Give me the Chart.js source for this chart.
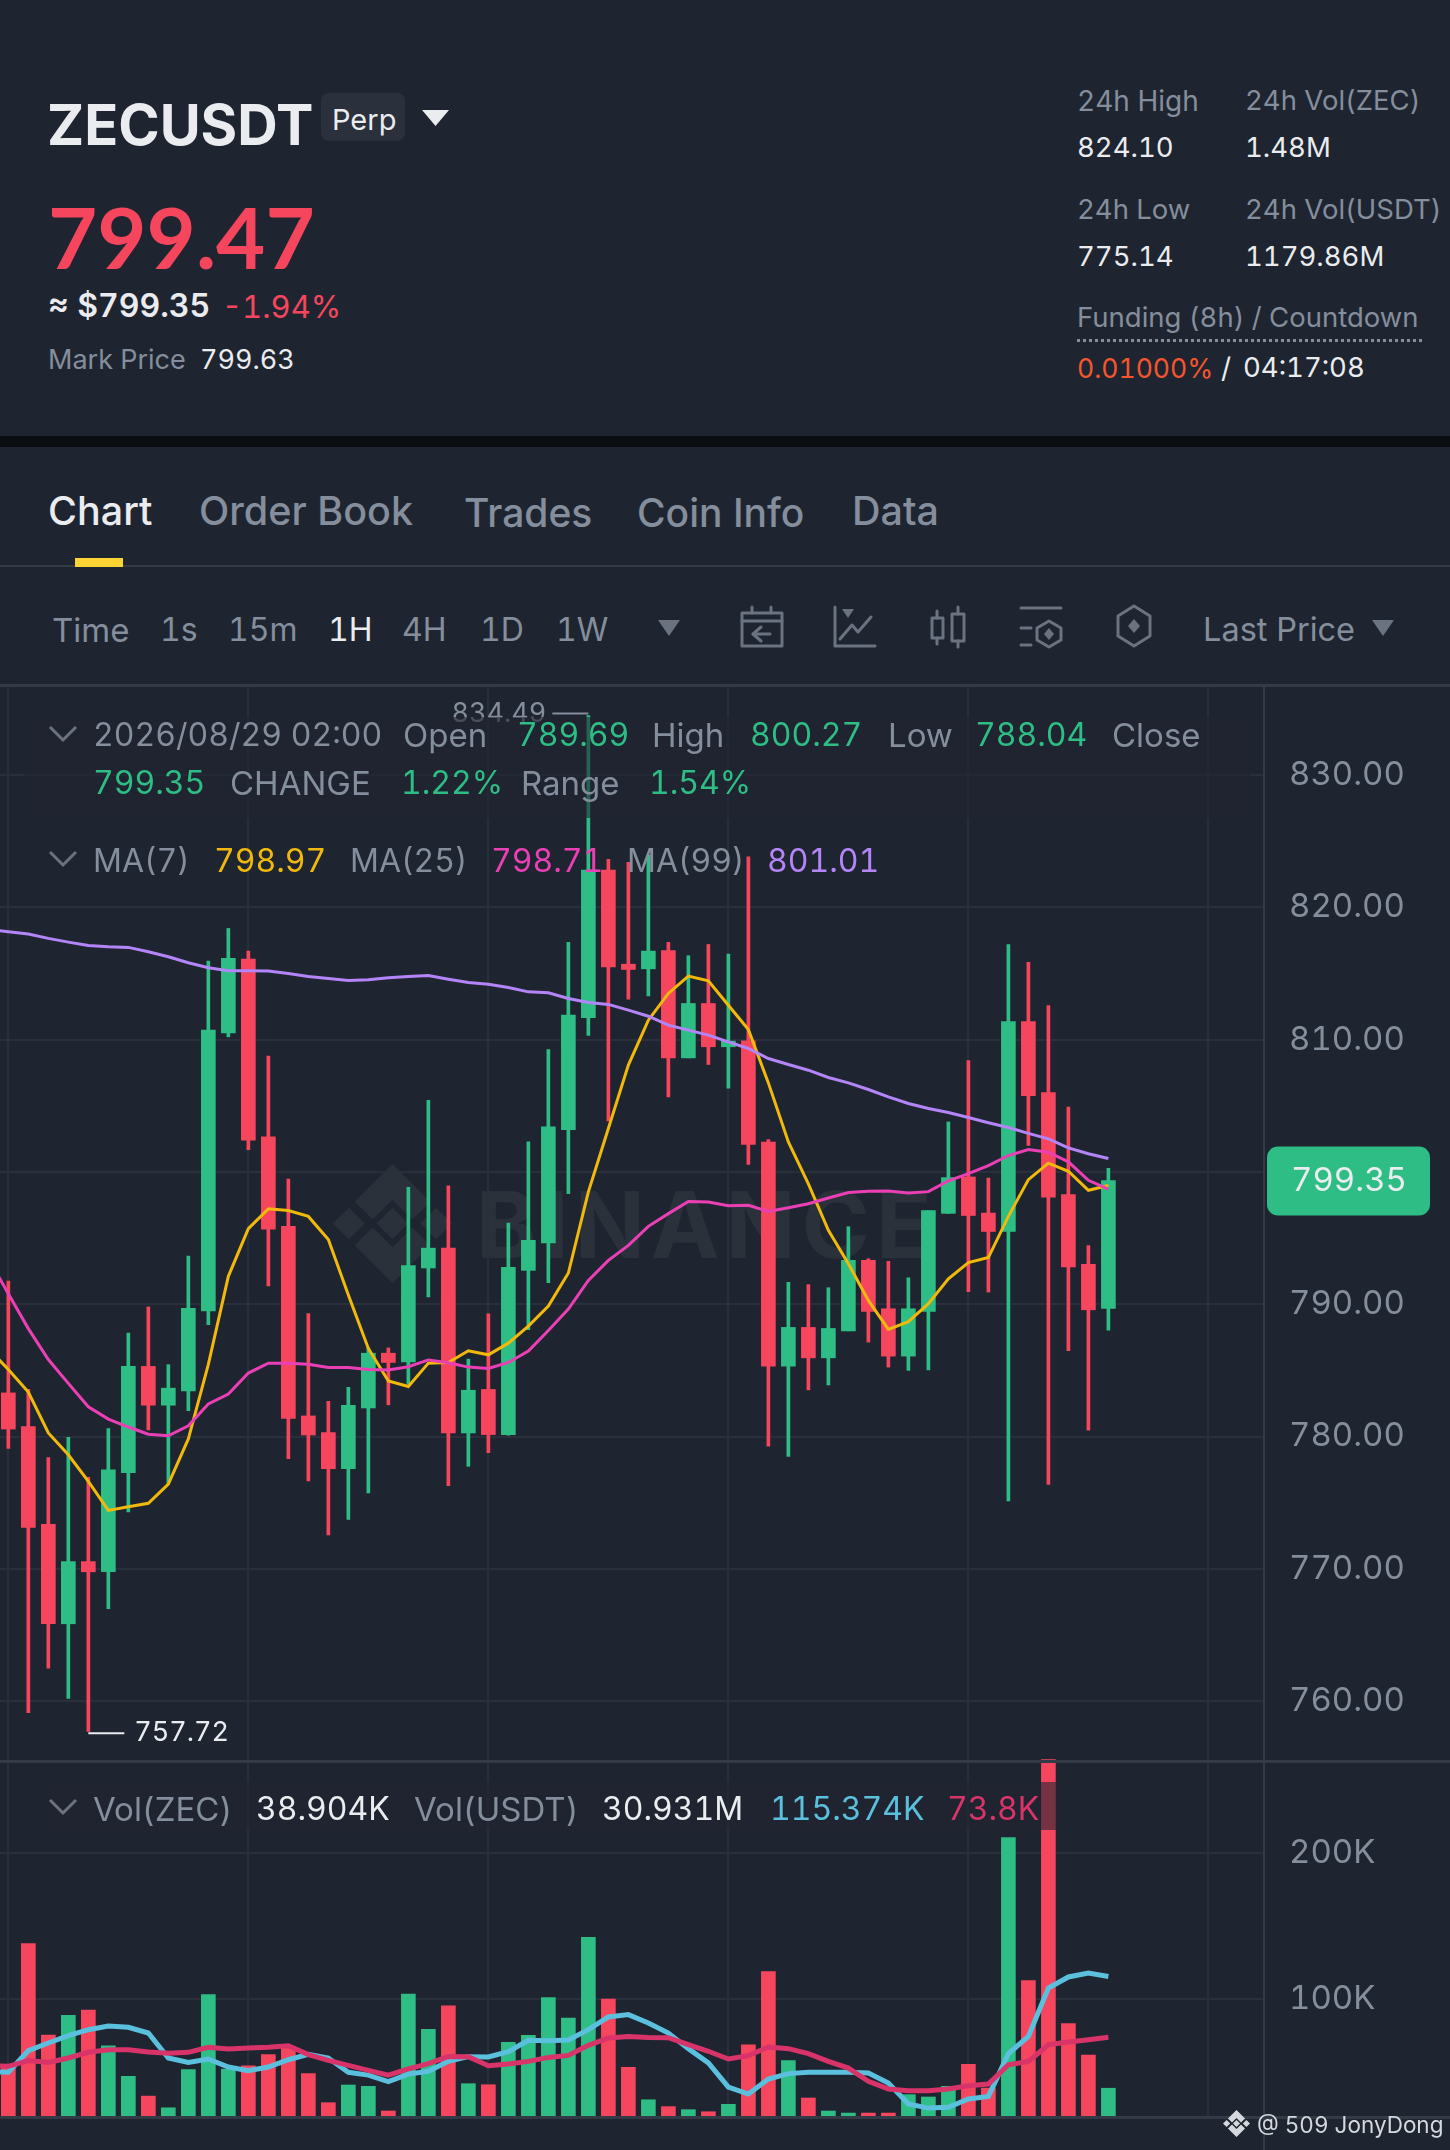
<!DOCTYPE html>
<html>
<head>
<meta charset="utf-8">
<title>ZECUSDT</title>
<script src="https://cdn.jsdelivr.net/npm/chart.js@4"></script>
<style>
html, body { margin: 0; padding: 0; background: #1f2530; }
#app { position: relative; width: 1450px; height: 2150px; overflow: hidden; background: #1f2530; font-family: Inter, sans-serif; font-variant-numeric: tabular-nums; }
#app span { position: absolute; white-space: nowrap; line-height: 1; transform: translateY(-50%); }
#app canvas { position: absolute; left: 0; }
#app svg { position: absolute; overflow: visible; }
.rule { position: absolute; background: #333b47; }
.box { position: absolute; }
</style>
</head>
<body>
<div id="app"></div>
<script>
// candles
var opens = [783.30,780.75,773.37,765.85,770.55,769.78,777.27,785.30,782.37,783.45,789.50,810.51,816.09,802.65,795.89,781.56,780.30,777.57,782.16,786.30,785.64,792.74,794.24,780.27,783.56,780.15,792.56,794.63,803.20,811.65,822.82,815.70,815.35,816.72,808.62,812.73,809.46,809.91,802.25,785.32,788.25,785.95,787.99,793.32,789.66,786.08,789.46,796.87,799.62,796.89,795.50,811.36,805.99,798.28,793.02,789.69];
var highs = [791.75,783.57,778.41,779.94,776.91,780.60,787.83,789.80,785.43,793.64,815.93,818.40,816.69,808.75,799.46,789.30,782.67,783.72,786.70,786.70,798.83,805.42,798.95,785.85,789.28,796.14,802.27,809.25,817.35,834.49,823.62,823.40,823.95,817.35,816.34,817.19,816.46,823.82,802.45,791.65,791.48,791.25,795.86,793.44,793.24,792.00,797.07,803.78,808.41,799.54,817.18,815.85,812.57,804.91,794.44,800.27];
var lows = [779.10,759.13,762.49,760.21,757.72,767.00,774.30,780.50,776.46,781.95,788.46,810.21,801.69,791.39,778.32,776.64,772.56,773.73,775.74,782.40,783.96,790.55,776.28,777.75,778.79,780.10,788.07,791.63,798.36,810.31,803.86,813.06,813.31,805.67,808.62,808.12,806.33,800.56,779.27,778.49,783.53,783.90,787.99,787.14,785.25,785.00,785.04,796.87,790.95,790.92,775.14,802.00,776.38,786.50,780.48,788.04];
var closes = [780.57,773.13,765.85,770.55,769.78,777.48,785.30,782.37,783.66,789.70,810.72,816.14,802.40,795.68,781.38,780.12,777.57,782.37,786.30,785.60,792.92,794.24,780.27,783.50,780.15,792.79,794.83,803.40,811.85,822.82,815.50,815.30,816.69,808.62,812.73,809.46,809.89,802.07,785.32,788.25,785.95,788.17,793.32,789.46,786.08,789.66,797.07,799.57,796.71,795.50,811.36,805.77,798.10,792.82,789.58,799.35];
// moving averages start one candle left of the visible ones
var ma_start = -1;
var ma7 = [786.66,785.07,783.36,780.27,778.62,776.61,774.42,774.69,774.96,776.40,779.82,785.46,792.11,795.71,797.21,797.09,796.64,794.90,790.70,786.66,784.20,783.78,785.55,785.60,786.48,786.18,787.06,788.35,789.86,792.36,798.49,803.28,808.07,811.47,813.49,814.80,814.45,812.60,810.77,806.73,802.27,799.10,795.59,793.06,790.29,788.10,788.68,790.04,791.93,793.15,793.53,796.64,799.42,800.66,800.05,798.61,798.97];
var ma25 = [793.46,790.79,788.16,785.82,784.02,782.25,781.32,780.72,780.18,780.06,780.81,782.46,783.21,784.80,785.55,785.55,785.46,785.22,785.22,785.07,785.04,785.28,785.79,785.58,785.25,785.15,785.60,786.46,788.02,789.63,791.80,793.32,794.45,795.89,796.85,797.76,797.73,797.45,797.48,797.02,797.30,797.60,798.03,798.44,798.54,798.56,798.41,798.51,799.32,799.87,800.48,801.24,801.69,801.49,800.76,799.37,798.71];
var ma99 = [818.35,818.15,817.98,817.65,817.37,817.12,817.02,816.97,816.64,816.26,815.81,815.43,815.20,815.20,815.18,815.00,814.77,814.62,814.47,814.52,814.67,814.77,814.85,814.57,814.32,814.19,813.94,813.61,813.54,813.11,812.81,812.66,812.23,811.77,811.09,810.72,810.34,809.83,809.33,808.57,808.12,807.69,807.14,806.73,806.23,805.67,805.17,804.79,804.49,804.11,803.72,803.36,802.91,802.50,801.82,801.37,801.01];
var price_ticks = [760,770,780,790,800,810,820,830];

// volume in K
var volumes = [55.0,137.9,75.3,88.8,92.5,68.0,47.0,33.5,25.5,51.6,103.0,52.1,54.3,61.9,67.6,48.9,29.0,41.1,40.2,23.3,103.4,79.2,95.4,42.0,41.3,70.3,75.1,100.9,87.0,142.2,100.0,53.2,31.0,26.3,24.2,22.8,27.9,68.7,118.7,57.8,32.2,23.3,21.9,21.9,21.9,34.5,32.9,40.2,55.2,39.0,210.5,112.6,264.0,83.1,61.6,38.904];
var vol_ma_a = [50.5,49.8,64.6,69.9,74.9,79.0,81.5,80.6,76.7,59.6,56.6,58.9,53.4,50.9,53.4,58.4,62.1,59.6,49.8,47.9,43.4,48.6,50.5,57.3,60.5,60.3,63.9,71.7,71.5,71.9,79.0,87.7,89.3,83.6,76.7,66.0,56.2,39.7,34.9,45.2,48.9,49.8,49.8,49.8,49.3,42.5,28.1,25.3,25.8,31.5,33.3,62.6,74.4,107.5,115.1,117.8,115.374];
var vol_ma_b = [54.5,53.9,57.8,56.6,59.6,63.5,65.3,65.3,63.7,62.8,63.5,66.9,65.8,66.4,66.9,68.0,61.9,58.0,54.6,51.1,47.9,52.1,55.7,60.7,60.5,54.3,55.5,57.3,60.0,61.4,68.3,73.3,74.4,73.7,73.5,68.7,64.2,58.9,61.2,67.1,66.0,62.6,57.3,52.7,43.6,38.4,37.2,37.2,38.4,40.6,41.8,55.0,57.3,68.7,70.5,72.1,73.8];
var vol_ticks = [100,200];

var grid_ticks = [0,12,24,36,48,60];

var green = '#2ebd85';
var red = '#f6465d';
var gray = '#848e9c';
var white = '#eaecef';
var grid_color = '#2a303b';

var app = document.getElementById('app');

function add_text(str, x, y, size, color, weight, family) {
    var el = document.createElement('span');
    el.textContent = str;
    el.style.left = x + 'px';
    el.style.top = y + 'px';
    el.style.fontSize = size + 'px';
    el.style.color = color;
    if (weight) el.style.fontWeight = weight;
    if (family) el.style.fontFamily = family;
    app.append(el);
    return el;
}

function add_box(cls, x, y, w, h, bg) {
    var el = document.createElement('div');
    el.className = cls;
    el.style.left = x + 'px';
    el.style.top = y + 'px';
    el.style.width = w + 'px';
    el.style.height = h + 'px';
    if (bg) el.style.background = bg;
    app.append(el);
    return el;
}

function add_svg(x, y, w, h, inner) {
    var wrap = document.createElement('div');
    wrap.innerHTML = '<svg xmlns="http://www.w3.org/2000/svg" style="left:' + x + 'px;top:' + y + 'px" width="' + w + '" height="' + h + '" viewBox="0 0 ' + w + ' ' + h + '">' + inner + '</svg>';
    app.append(wrap.firstChild);
}

function triangle(x, y, w, h, color) {
    add_svg(x, y, w, h, '<polygon points="0,0 ' + w + ',0 ' + (w / 2) + ',' + h + '" fill="' + color + '"/>');
}

function chevron(y) {
    add_svg(49, y, 28, 15, '<polyline points="1,1 14,14 27,1" fill="none" stroke="#6b7280" stroke-width="3"/>');
}

function binance_logo(x, y, size, color) {
    add_svg(x, y, size, size, '<g transform="scale(' + (size / 120) + ')" fill="' + color + '">' +
        '<polygon points="60,0 98,38 80,56 60,36 40,56 22,38"/>' +
        '<polygon points="60,120 98,82 80,64 60,84 40,64 22,82"/>' +
        '<polygon points="60,44 76,60 60,76 44,60"/>' +
        '<polygon points="16,44 32,60 16,76 0,60"/>' +
        '<polygon points="104,44 120,60 104,76 88,60"/></g>');
}

// header
add_text('ZECUSDT', 47, 125, 56, white, 700);
add_box('box', 321, 93, 84, 48, '#2a303c').style.borderRadius = '8px';
add_text('Perp', 332, 119, 29, white);
triangle(422, 110, 27, 16, white);
add_text('799.47', 48, 236, 85, red, 700, 'Lato');
add_text('≈ $799.35', 48, 306, 32, white, 600);
add_text('-1.94%', 222, 306, 31, red);
add_text('Mark Price', 48, 359, 27, gray);
add_text('799.63', 200, 359, 27, white);

add_text('24h High', 1077, 101, 28, gray);
add_text('24h Vol(ZEC)', 1245, 101, 27.5, gray);
add_text('824.10', 1077, 148, 27.5, white);
add_text('1.48M', 1245, 148, 27.5, white);
add_text('24h Low', 1077, 210, 27.5, gray);
add_text('24h Vol(USDT)', 1245, 210, 27.5, gray);
add_text('775.14', 1077, 257, 27.5, white);
add_text('1179.86M', 1245, 257, 27.5, white);
add_text('Funding (8h) / Countdown', 1077, 318, 27.5, gray);
add_box('box', 1077, 339, 345, 0).style.borderTop = '3px dotted #848e9c';
add_text('0.01000%', 1077, 368, 26.5, '#f6552d');
add_text('/', 1221, 368, 28, white);
add_text('04:17:08', 1243, 368, 27.5, white);

add_box('box', 0, 436, 1450, 11, '#0b0e11');

// tabs
add_text('Chart', 48, 512, 39.5, white, 500);
add_text('Order Book', 199, 512, 39.5, gray, 500);
add_text('Trades', 464, 512, 39, gray, 500);
add_text('Coin Info', 637, 512, 39, gray, 500);
add_text('Data', 852, 512, 39.5, gray, 500);
add_box('rule', 0, 565, 1450, 2);
add_box('box', 75, 558, 48, 9, '#fcd535');

// toolbar
add_text('Time', 52, 630, 33, gray);
add_text('1s', 160, 630, 32, gray);
add_text('15m', 228, 630, 32, gray);
add_text('1H', 328, 630, 32, white);
add_text('4H', 402, 630, 32, gray);
add_text('1D', 480, 630, 32, gray);
add_text('1W', 556, 630, 32, gray);
triangle(658, 620, 22, 16, '#6b7280');
add_text('Last Price', 1203, 630, 32.5, gray);
triangle(1372, 620, 22, 16, '#6b7280');

var icon_style = 'fill="none" stroke="#6b7280" stroke-width="3" stroke-linecap="round" stroke-linejoin="round"';
add_svg(741, 606, 42, 42, '<g ' + icon_style + '><rect x="1" y="7" width="40" height="33"/><line x1="1" y1="15" x2="41" y2="15"/><line x1="11" y1="1" x2="11" y2="7"/><line x1="30" y1="1" x2="30" y2="7"/><polyline points="20,21 12,28 20,35"/><line x1="12" y1="28" x2="29" y2="28"/></g>');
add_svg(834, 606, 42, 42, '<g ' + icon_style + '><polyline points="1,1 1,40 41,40"/><polyline points="6,33 18,19 24,26 37,11"/></g><polygon points="8,3 20,3 14,12" fill="#6b7280"/>');
add_svg(930, 606, 36, 42, '<g ' + icon_style + '><rect x="2" y="12" width="11" height="20"/><rect x="22" y="8" width="12" height="27"/><line x1="7" y1="5" x2="7" y2="12"/><line x1="7" y1="32" x2="7" y2="38"/><line x1="28" y1="1" x2="28" y2="8"/><line x1="28" y1="35" x2="28" y2="41"/></g>');
add_svg(1020, 606, 42, 42, '<g ' + icon_style + '><line x1="1" y1="2" x2="41" y2="2"/><line x1="1" y1="22" x2="11" y2="22"/><line x1="1" y1="39" x2="11" y2="39"/><polygon points="29,15 41,22 41,34 29,41 17,34 17,22"/></g><polygon points="29,22 34,28 29,34 24,28" fill="#6b7280"/>');
add_svg(1116, 605, 36, 42, '<g ' + icon_style + '><polygon points="18,1 34,11 34,31 18,41 2,31 2,11"/></g><polygon points="18,14 24,21 18,28 12,21" fill="#6b7280"/>');

add_box('rule', 0, 684, 1450, 3);

// watermark sits under the charts
binance_logo(333, 1164, 119, '#2b313b');
var watermark = add_text('BINANCE', 476, 1225, 92, '#2b313b', 700);
watermark.style.letterSpacing = '6px';

function to_points(series, start) {
    return series.map(function (v, i) { return { x: i + start, y: v }; });
}

function to_ranges(tops, bottoms) {
    return tops.map(function (v, i) { return { x: i, y: [v, bottoms[i]] }; });
}

var candle_colors = closes.map(function (c, i) { return c >= opens[i] ? green : red; });

function bar_set(data, thickness, colors, order) {
    return {
        type: 'bar', data: data, barThickness: thickness, backgroundColor: colors,
        borderWidth: 0, grouped: false, order: order, clip: false
    };
}

function line_set(series, color, width, order) {
    return {
        type: 'line', data: to_points(series, ma_start), borderColor: color, borderWidth: width,
        pointRadius: 0, tension: 0, fill: false, order: order
    };
}

function x_scale() {
    // one candle is 20px wide, first candle centre at 8px, axis ends at 1264
    return {
        type: 'linear', min: -0.4167, max: 62.78, offset: false,
        afterBuildTicks: function (axis) {
            axis.ticks = grid_ticks.map(function (v) { return { value: v }; });
        },
        afterFit: function (axis) { axis.paddingLeft = 0; axis.paddingRight = 0; },
        grid: { color: grid_color, lineWidth: 2, offset: false, drawTicks: false },
        border: { display: false },
        ticks: { display: false }
    };
}

function y_scale(min, max, ticks, fmt) {
    return {
        position: 'right', min: min, max: max,
        afterBuildTicks: function (axis) {
            axis.ticks = ticks.map(function (v) { return { value: v }; });
        },
        afterFit: function (axis) {
            axis.width = 186;
            // tick padding otherwise eats into the plot height
            axis.paddingTop = 0;
            axis.paddingBottom = 0;
        },
        grid: { color: grid_color, lineWidth: 2, drawTicks: false },
        border: { display: false },
        ticks: {
            color: gray, padding: 25, font: { family: 'Inter', size: 33 },
            callback: fmt
        }
    };
}

var price_extras = {
    id: 'price_extras',
    afterDatasetsDraw: function (chart) {
        var ctx = chart.ctx, xs = chart.scales.x, ys = chart.scales.y;
        var hi = Math.max.apply(null, highs), lo = Math.min.apply(null, lows);
        var hi_x = xs.getPixelForValue(highs.indexOf(hi)), lo_x = xs.getPixelForValue(lows.indexOf(lo));
        ctx.save();
        ctx.textBaseline = 'middle';
        ctx.lineWidth = 2;
        ctx.font = '27px Inter';
        ctx.strokeStyle = ctx.fillStyle = white;
        ctx.beginPath();
        ctx.moveTo(lo_x, ys.getPixelForValue(lo) + 2);
        ctx.lineTo(lo_x + 36, ys.getPixelForValue(lo) + 2);
        ctx.stroke();
        ctx.textAlign = 'left';
        ctx.fillText(lo.toFixed(2), lo_x + 46, ys.getPixelForValue(lo) + 2);
        ctx.strokeStyle = ctx.fillStyle = gray;
        ctx.beginPath();
        ctx.moveTo(hi_x - 36, ys.getPixelForValue(hi) - 2);
        ctx.lineTo(hi_x, ys.getPixelForValue(hi) - 2);
        ctx.stroke();
        ctx.textAlign = 'right';
        ctx.fillText(hi.toFixed(2), hi_x - 42, ys.getPixelForValue(hi) - 2);

        // last price tag
        var last = closes[closes.length - 1], tag_y = ys.getPixelForValue(last);
        ctx.fillStyle = green;
        ctx.beginPath();
        ctx.roundRect(1267, tag_y - 34, 163, 69, 11);
        ctx.fill();
        ctx.fillStyle = white;
        ctx.font = '33px Inter';
        ctx.textAlign = 'center';
        ctx.fillText(last.toFixed(2), 1349, tag_y + 1);
        ctx.restore();
    }
};

function add_canvas(top, height) {
    var canvas = document.createElement('canvas');
    canvas.width = 1450;
    canvas.height = height;
    canvas.style.top = top + 'px';
    canvas.style.width = '1450px';
    canvas.style.height = height + 'px';
    app.append(canvas);
    return canvas;
}

new Chart(add_canvas(687, 1074), {
    data: {
        datasets: [
            line_set(ma99, '#b385f8', 3, 1),
            line_set(ma25, '#eb40b5', 3, 2),
            line_set(ma7, '#f0b90b', 3, 3),
            bar_set(to_ranges(opens, closes), 14, candle_colors, 5),
            bar_set(to_ranges(highs, lows), 3, candle_colors, 6)
        ]
    },
    options: {
        responsive: false, animation: false, devicePixelRatio: 1,
        layout: { padding: 0 },
        plugins: { legend: { display: false }, tooltip: { enabled: false } },
        scales: {
            x: x_scale(),
            y: y_scale(755.48, 836.65, price_ticks, function (v) { return v.toFixed(2); })
        }
    },
    plugins: [price_extras]
});

new Chart(add_canvas(1752, 365), {
    data: {
        datasets: [
            line_set(vol_ma_b, '#d8346a', 5, 1),
            line_set(vol_ma_a, '#5bc0de', 5, 2),
            bar_set(to_points(volumes, 0), 14, candle_colors, 3)
        ]
    },
    options: {
        responsive: false, animation: false, devicePixelRatio: 1,
        layout: { padding: { top: 10 } },
        plugins: { legend: { display: false }, tooltip: { enabled: false } },
        scales: {
            x: x_scale(),
            y: y_scale(19.2, 262.3, vol_ticks, function (v) { return v + 'K'; })
        }
    }
});

// pane borders
add_box('rule', 0, 1760, 1450, 3).style.zIndex = 0;
add_box('rule', 0, 2116, 1450, 3);
add_box('rule', 1263, 686, 2, 1464);

// legends: a translucent strip dims the marks behind the text
add_box('box', 24, 717, 1226, 101, 'rgba(31,37,48,0.6)');
add_box('box', 40, 1782, 1016, 48, 'rgba(31,37,48,0.6)');

chevron(726);
add_text('2026/08/29 02:00', 93, 735, 32, gray);
add_text('Open', 403, 735, 33, gray);
add_text('789.69', 517, 735, 32, green);
add_text('High', 652, 735, 33, gray);
add_text('800.27', 750, 735, 32, green);
add_text('Low', 888, 735, 33, gray);
add_text('788.04', 975, 735, 32, green);
add_text('Close', 1112, 735, 33, gray);
add_text('799.35', 93, 783, 32, green);
add_text('CHANGE', 230, 783, 33, gray);
add_text('1.22%', 401, 783, 32, green);
add_text('Range', 521, 783, 33, gray);
add_text('1.54%', 649, 783, 32, green);

chevron(851);
add_text('MA(7)', 93, 861, 32, gray);
add_text('798.97', 214, 861, 32, '#f0b90b');
add_text('MA(25)', 350, 861, 32, gray);
add_text('798.71', 491, 861, 32, '#eb40b5');
add_text('MA(99)', 627, 861, 32, gray);
add_text('801.01', 767, 861, 32, '#b385f8');

chevron(1799);
add_text('Vol(ZEC)', 93, 1809, 33, gray);
add_text('38.904K', 256, 1809, 32, white);
add_text('Vol(USDT)', 414, 1809, 33, gray);
add_text('30.931M', 602, 1809, 32, white);
add_text('115.374K', 770, 1809, 32, '#5bc0de');
add_text('73.8K', 947, 1809, 32, '#d8346a');

// credit
binance_logo(1223, 2110, 27, '#d5d8dc');
add_text('@ 509 JonyDong', 1257, 2125, 22.5, '#d5d8dc');
</script>
</body>
</html>
